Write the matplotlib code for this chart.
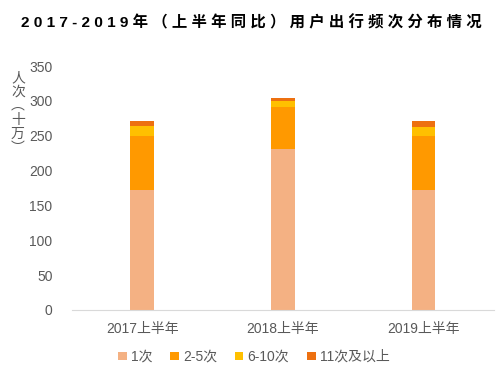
import matplotlib.pyplot as plt
import numpy as np

plt.rcParams['font.family'] = ['Liberation Sans', 'Noto Sans CJK SC', 'DejaVu Sans']

# data
categories = ['2017上半年', '2018上半年', '2019上半年']
series_names = ['1次', '2-5次', '6-10次', '11次及以上']
once = [172, 231, 172]
two_five = [78, 60, 78]
six_ten = [14, 9, 13]
eleven_up = [7, 4, 8]
colors = ['#F4B183', '#FF9900', '#FFC000', '#ED7010']
title = '2017-2019年（上半年同比）用户出行频次分布情况'

fig = plt.figure(figsize=(4.98, 3.73), dpi=100)
ax = fig.add_axes([0.1446, 0.169, 0.847, 0.654])

x = np.arange(len(categories))
bottom = np.zeros(len(categories))
for name, vals, c in zip(series_names, [once, two_five, six_ten, eleven_up], colors):
    ax.bar(x, vals, width=0.17, bottom=bottom, color=c, label=name)
    bottom += np.array(vals)

ax.set_xlim(-0.5, 2.5)
ax.set_ylim(0, 350)
ax.set_yticks(range(0, 351, 50))
ax.set_xticks(x)
ax.set_xticklabels(categories)
for s in ['top', 'right', 'left']:
    ax.spines[s].set_visible(False)
ax.spines['bottom'].set_color('#D9D9D9')
ax.tick_params(axis='y', length=0, labelsize=10, colors='#595959', pad=14)
ax.tick_params(axis='x', length=0, labelsize=10, colors='#595959', pad=9)

fig.text(0.036, 0.81, '人\n次\n︵\n十\n万\n︶', fontsize=10, color='#595959',
         ha='center', va='top', linespacing=1.0)

# title has wide letter spacing in the original
fig.text(0.505, 0.94, ' '.join(title), fontsize=11.1,
         fontweight='bold', ha='center', va='center', color='black')

leg = fig.legend(loc='center', bbox_to_anchor=(0.51, 0.043), ncol=4, frameon=False,
                 fontsize=10, handlelength=0.6, handleheight=0.6, handletextpad=0.3,
                 columnspacing=1.3)
for t in leg.get_texts():
    t.set_color('#595959')

fig.savefig('out.png', dpi=100)
